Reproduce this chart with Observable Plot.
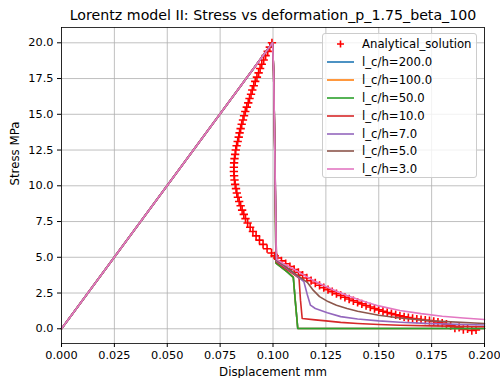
<!DOCTYPE html>
<html>
<head>
<meta charset="utf-8">
<script src="https://cdn.jsdelivr.net/npm/d3@7"></script>
<script src="https://cdn.jsdelivr.net/npm/@observablehq/plot@0.6"></script>
<style>
  html, body { margin: 0; padding: 0; background: #fff; }
  #wrap { position: relative; width: 500px; height: 378px; font-family: "DejaVu Sans", sans-serif; }
  #legend { position: absolute; left: 322px; top: 33px; width: 155px; height: 145px;
    background: rgba(255,255,255,0.8); border: 1px solid #cccccc; border-radius: 3px; box-sizing: border-box; }
  .item { position: absolute; left: 0; height: 18px; display: flex; align-items: center; font-size: 11.7px; color: #000; white-space: nowrap; }
  .item svg { margin-left: 4px; margin-right: 8px; }
</style>
</head>
<body>
<div id="wrap"><div id="legend"></div></div>
<script>
const titleText = "Lorentz model II: Stress vs deformation_p_1.75_beta_100";
const xLabel = "Displacement mm";
const yLabel = "Stress MPa";
const xTicks = [0, 0.025, 0.05, 0.075, 0.1, 0.125, 0.15, 0.175, 0.2];
const yTicks = [0, 2.5, 5, 7.5, 10, 12.5, 15, 17.5, 20];

const analyticalName = "Analytical_solution";
const seriesNames = ["l_c/h=200.0", "l_c/h=100.0", "l_c/h=50.0", "l_c/h=10.0", "l_c/h=7.0", "l_c/h=5.0", "l_c/h=3.0"];
const seriesColors = ["#1f77b4", "#ff7f0e", "#2ca02c", "#d62728", "#9467bd", "#8c564b", "#e377c2"];

// analytical solution (displacement, stress)
const analytical = [
  [0.0995,20.0],[0.0985,19.7],[0.0975,19.4],[0.0965,19.1],[0.0956,18.8],[0.0947,18.5],[0.0939,18.2],
  [0.0932,17.9],[0.0924,17.6],[0.0916,17.3],[0.0909,17.0],[0.0902,16.7],[0.0896,16.4],[0.0889,16.1],
  [0.0883,15.8],[0.0876,15.5],[0.0869,15.2],[0.0863,14.9],[0.0858,14.6],[0.0852,14.3],[0.0847,14.0],
  [0.0842,13.7],[0.0838,13.4],[0.0833,13.1],[0.0828,12.8],[0.0824,12.5],[0.0821,12.2],[0.0818,11.9],
  [0.0816,11.6],[0.0815,11.3],[0.0815,11.0],[0.0816,10.7],[0.0818,10.4],[0.0821,10.1],[0.0825,9.8],
  [0.0829,9.5],[0.0834,9.2],[0.0840,8.9],[0.0847,8.6],[0.0854,8.3],[0.0862,8.0],[0.0870,7.7],
  [0.0880,7.4],[0.0892,7.1],[0.0905,6.8],[0.0920,6.5],[0.0936,6.2],[0.0953,5.9],[0.0972,5.6],
  [0.0993,5.3],[0.1008,5.1],
  [0.102,4.95],[0.104,4.75],[0.106,4.55],[0.108,4.35],[0.110,4.15],[0.112,3.95],[0.114,3.75],
  [0.116,3.55],[0.118,3.37],[0.120,3.20],[0.122,3.04],[0.124,2.88],[0.126,2.74],[0.128,2.60],
  [0.130,2.46],[0.132,2.33],[0.134,2.20],[0.136,2.08],[0.138,1.96],[0.140,1.85],[0.142,1.74],
  [0.144,1.63],[0.146,1.52],[0.148,1.42],[0.150,1.32],[0.152,1.23],[0.154,1.14],[0.156,1.06],
  [0.158,0.98],[0.160,0.90],[0.162,0.83],[0.164,0.78],[0.166,0.72],[0.168,0.68],[0.170,0.64],
  [0.172,0.60],[0.174,0.57],[0.176,0.52],[0.178,0.47],[0.180,0.40],[0.182,0.32],[0.184,0.20],
  [0.186,0.05],[0.188,0.10],[0.190,-0.05],[0.192,0.00],[0.194,-0.12],[0.196,-0.08]
];

// FE results (displacement, stress)
const lc200 = [[0,0],[0.0998,20],[0.1003,18],[0.1009,12],[0.1013,6],[0.1014,4.6],[0.104,4.3],[0.107,3.95],[0.1096,3.6],[0.1105,2.0],[0.1117,0.03],[0.15,0.02],[0.2,0.02]];
const lc100 = [[0,0],[0.0998,20],[0.1003,18],[0.1009,12],[0.1013,6],[0.1014,4.6],[0.104,4.3],[0.107,3.95],[0.1096,3.6],[0.1105,2.0],[0.1117,0.03],[0.15,0.02],[0.2,0.02]];
const lc50  = [[0,0],[0.0998,20],[0.1003,18],[0.1009,12],[0.1013,6],[0.1014,4.6],[0.104,4.3],[0.107,3.95],[0.1096,3.6],[0.1105,2.0],[0.1117,0.03],[0.15,0.02],[0.2,0.02]];
const lc10  = [[0,0],[0.0998,20],[0.1003,18],[0.1009,12],[0.1014,6],[0.1015,4.7],[0.105,4.3],[0.109,3.9],[0.1123,3.55],[0.1130,2.0],[0.1138,0.72],[0.12,0.62],[0.125,0.55],[0.132,0.45],[0.14,0.37],[0.15,0.3],[0.16,0.25],[0.175,0.2],[0.2,0.14]];
const lc7   = [[0,0],[0.0998,20],[0.1003,18],[0.1009,12],[0.1015,6],[0.1016,4.75],[0.105,4.4],[0.11,3.85],[0.1146,3.3],[0.1162,2.4],[0.1177,1.65],[0.12,1.42],[0.1257,1.12],[0.132,0.85],[0.14,0.68],[0.15,0.55],[0.16,0.46],[0.175,0.36],[0.2,0.26]];
const lc5   = [[0,0],[0.0998,20],[0.1003,18],[0.1009,12],[0.1015,6],[0.1017,4.8],[0.105,4.45],[0.11,3.9],[0.1162,3.25],[0.119,2.7],[0.122,2.25],[0.126,1.9],[0.13,1.65],[0.135,1.42],[0.14,1.23],[0.15,0.95],[0.16,0.75],[0.175,0.55],[0.2,0.37]];
const lc3   = [[0,0],[0.0998,20],[0.1003,18],[0.1009,12],[0.1015,5.6],[0.1018,4.85],[0.105,4.55],[0.11,4.15],[0.115,3.72],[0.12,3.3],[0.125,2.95],[0.13,2.62],[0.135,2.33],[0.14,2.07],[0.145,1.82],[0.15,1.6],[0.16,1.28],[0.17,1.06],[0.18,0.88],[0.19,0.75],[0.2,0.65]];

const seriesData = [lc200, lc100, lc50, lc10, lc7, lc5, lc3];

const gridStyle = {stroke: "#b0b0b0", strokeOpacity: 1, strokeWidth: 0.8};

const chart = Plot.plot({
  width: 500,
  height: 378,
  marginLeft: 61,
  marginRight: 16,
  marginTop: 27,
  marginBottom: 35,
  style: {fontFamily: "DejaVu Sans", fontSize: "11.3px", background: "white", color: "black"},
  x: {domain: [0, 0.2]},
  y: {domain: [-1.03, 21.07]},
  marks: [
    Plot.gridX(xTicks, gridStyle),
    Plot.gridY(yTicks, gridStyle),
    Plot.dot(analytical, {x: d => d[0], y: d => d[1], symbol: "plus", r: 2.8, stroke: "#ff0000", strokeWidth: 1.6, fill: "none"}),
    ...seriesData.map((s, i) => Plot.line(s, {x: d => d[0], y: d => d[1], stroke: seriesColors[i], strokeWidth: 1.6})),
    Plot.frame({stroke: "black", strokeWidth: 0.8}),
    Plot.axisX(xTicks, {tickFormat: d3.format(".3f"), tickSize: 4, tickPadding: 3, label: null}),
    Plot.axisY(yTicks, {tickFormat: d3.format(".1f"), tickSize: 4, tickPadding: 4, label: null}),
    Plot.text([titleText], {frameAnchor: "top", lineAnchor: "bottom", dy: -8, fontSize: 14.2}),
    Plot.text([xLabel], {frameAnchor: "bottom", lineAnchor: "middle", dy: 29, fontSize: 11.8}),
    Plot.text([yLabel], {frameAnchor: "left", lineAnchor: "middle", rotate: -90, dx: -46, fontSize: 11.8})
  ]
});
document.getElementById("wrap").prepend(chart);

// legend
const legend = document.getElementById("legend");
const entries = [{name: analyticalName, color: "#ff0000", marker: true}]
  .concat(seriesNames.map((n, i) => ({name: n, color: seriesColors[i], marker: false})));
entries.forEach((e, i) => {
  const div = document.createElement("div");
  div.className = "item";
  div.style.top = (1.3 + i * 17.86) + "px";
  const sw = e.marker
    ? `<svg width="27" height="10"><path d="M13.5,1.5V8.5M10,5H17" stroke="${e.color}" stroke-width="1.6"/></svg>`
    : `<svg width="27" height="10"><line x1="0" x2="27" y1="5" y2="5" stroke="${e.color}" stroke-width="1.6"/></svg>`;
  div.innerHTML = sw + `<span>${e.name}</span>`;
  legend.appendChild(div);
});
</script>
</body>
</html>
